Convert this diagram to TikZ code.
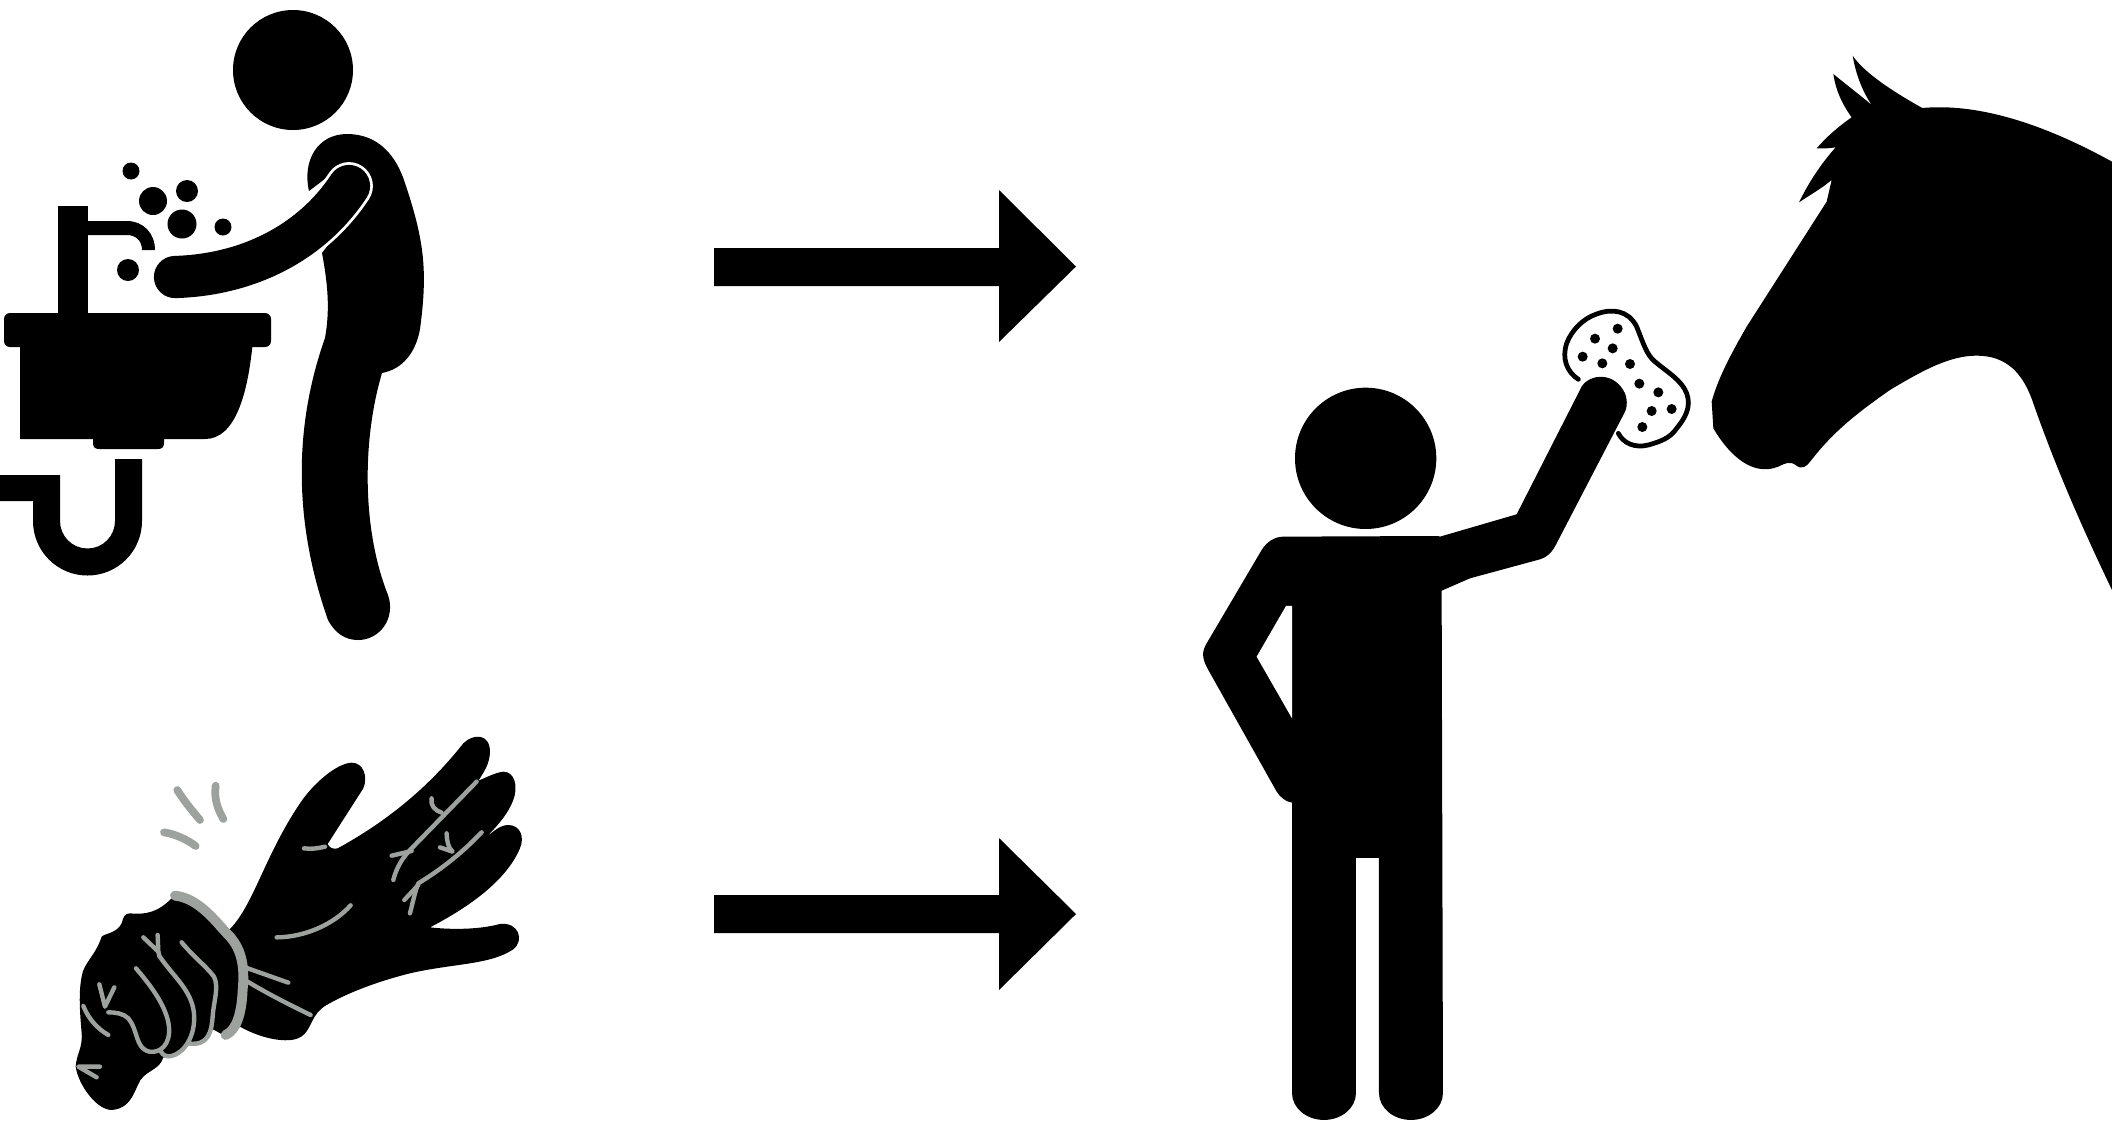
\documentclass[tikz,border=0pt]{standalone}
\usepackage{tikz}
\definecolor{handgrey}{RGB}{157,162,158}
\tikzset{
  greyline/.style={color=handgrey,line width=1.25pt,line cap=round,line join=round},
  greyspark/.style={color=handgrey,line width=2.2pt,line cap=round},
  greyband/.style={color=handgrey,line width=2.8pt,line cap=round,line join=round},
  sponge/.style={line width=1.35pt,line cap=round},
  bigarrow/.style={fill=black}
}
\begin{document}
\begin{tikzpicture}[x=0.01cm,y=-0.01cm]
\useasboundingbox (0,0) rectangle (2112,1120);
%\draw[help lines,step=100] (0,0) grid (2112,1120);

% washing person
\fill (293,70) circle (60);
\fill (309,191) .. controls (302,160) and (318,134) .. (347,134) .. controls (378,134) and (396,155) .. (405,183)
  .. controls (424,240) and (428,270) .. (420,329) .. controls (416,352) and (403,369) .. (382,373)
  .. controls (362,440) and (362,530) .. (388,595)
  .. controls (396,618) and (380,640) .. (358,640) .. controls (345,640) and (335,633) .. (328,620)
  .. controls (291,515) and (296,420) .. (325,338) .. controls (330,310) and (328,285) .. (322,253)
  -- (370,190) -- (348,165) -- (330,175) -- cycle;
\draw[white,line width=13.6pt,line cap=round] (175,277) .. controls (245,275) and (310,245) .. (349,186);
\draw[line width=12pt,line cap=round] (175,277) .. controls (245,275) and (310,245) .. (349,186);

% sink, tap and drain
\fill[rounded corners=1.7pt] (4,313) rectangle (271,347);
\fill (20,340) -- (20,439) -- (93,439) -- (93,443) .. controls (93,447) and (95,449) .. (99,449)
  -- (158,449) .. controls (162,449) and (164,447) .. (164,443) -- (164,439) -- (205,439)
  .. controls (235,439) and (248,395) .. (253,340) -- cycle;
\fill (58,206) rectangle (88,320);
\fill (88,221) -- (127,221) .. controls (143,221) and (155,233) .. (155,250) -- (142,250)
  .. controls (142,240) and (135,235) .. (127,235) -- (88,235) -- cycle;
\fill (0,475) -- (60,475) -- (60,521) arc (180:0:27.5) -- (115,459) -- (142,459) -- (142,521)
  arc (0:180:54.5) -- (33,501) -- (0,501) -- cycle;
\fill (131,171) circle (8.5);
\fill (153,201) circle (14);
\fill (187,191) circle (11);
\fill (182,224) circle (14.5);
\fill (223,227) circle (8.5);
\fill (128,270) circle (11);

% hurt hand
\begin{scope}[shift={(60,720)},scale=0.3333]
\fill (505,632) .. controls (580,560) and (612,410) .. (720,250) .. controls (760,190) and (830,130) .. (875,128)
  .. controls (910,128) and (925,170) .. (910,205) -- (803,372) .. controls (810,385) and (820,388) .. (833,385)
  .. controls (970,310) and (1100,210) .. (1210,70) .. controls (1240,40) and (1290,40) .. (1290,95)
  .. controls (1290,130) and (1270,160) .. (1255,182)
  .. controls (1280,172) and (1305,158) .. (1330,155) .. controls (1365,155) and (1375,200) .. (1360,240)
  .. controls (1345,280) and (1315,315) .. (1280,350)
  .. controls (1300,335) and (1320,315) .. (1345,315) .. controls (1380,315) and (1395,350) .. (1380,385)
  .. controls (1340,480) and (1230,560) .. (1110,622)
  .. controls (1180,630) and (1260,628) .. (1320,612) .. controls (1375,605) and (1395,660) .. (1360,688)
  .. controls (1290,735) and (1180,730) .. (1050,760) .. controls (950,785) and (860,820) .. (800,855)
  .. controls (755,880) and (755,925) .. (730,945) .. controls (700,975) and (610,960) .. (540,920)
  -- (490,945) -- (457,927) .. controls (450,960) and (425,982) .. (385,975) .. controls (370,1000) and (345,1015) .. (310,1012)
  .. controls (300,1045) and (270,1050) .. (250,1070) .. controls (225,1090) and (225,1165) .. (155,1170)
  .. controls (110,1170) and (55,1095) .. (47,1040) .. controls (50,1000) and (68,985) .. (65,940)
  .. controls (60,880) and (55,820) .. (65,770) .. controls (70,730) and (105,710) .. (125,650)
  .. controls (135,640) and (170,640) .. (185,610) .. controls (190,590) and (195,580) .. (210,580)
  .. controls (260,585) and (295,575) .. (335,535) -- (400,545) -- cycle;
% grey lines on the hand
\draw[greyspark] (352,210) .. controls (370,240) and (395,270) .. (420,300);
\draw[greyspark] (467,197) .. controls (462,235) and (472,265) .. (490,297);
\draw[greyspark] (312,337) .. controls (345,342) and (380,358) .. (407,378);
\draw[greyline] (732,385) .. controls (755,388) and (775,385) .. (795,380);
\draw[greyline] (650,652) .. controls (730,652) and (820,615) .. (872,556);
\draw[greyline] (555,742) -- (685,788);
\draw[greyline] (555,780) .. controls (620,820) and (690,855) .. (752,885);
\draw[greyband] (345,527) .. controls (420,535) and (470,610) .. (510,650) .. controls (545,690) and (555,740) .. (548,810)
  .. controls (545,880) and (530,930) .. (497,945);
\draw[greyline] (1250,185) -- (1055,385) .. controls (1030,410) and (1010,440) .. (1000,480);
\draw[greyline] (995,407) -- (1055,393);
\draw[greyline] (1115,235) .. controls (1110,255) and (1125,272) .. (1145,278);
\draw[greyline] (1265,337) .. controls (1200,405) and (1140,450) .. (1075,490) .. controls (1065,515) and (1058,550) .. (1050,580);
\draw[greyline] (1033,540) -- (1075,495);
\draw[greyline] (1160,340) .. controls (1160,360) and (1165,385) .. (1178,395) -- (1140,382);
\draw[greyline] (365,667) .. controls (400,710) and (440,740) .. (462,770) .. controls (478,800) and (460,850) .. (458,890)
  .. controls (455,930) and (448,980) .. (385,970);
\draw[greyline] (298,708) .. controls (340,770) and (395,810) .. (402,880) .. controls (408,950) and (370,1000) .. (335,1008)
  .. controls (320,1012) and (308,1005) .. (303,995);
\draw[greyline] (228,745) .. controls (275,800) and (320,860) .. (327,920) .. controls (332,975) and (300,1000) .. (268,995)
  .. controls (225,985) and (235,930) .. (205,895) .. controls (190,880) and (165,877) .. (145,877);
\draw[greyline] (250,652) -- (295,695) -- (293,645);
\draw[greyline] (295,695) -- (298,708);
\draw[greyline] (118,793) -- (135,860) -- (163,802);
\draw[greyline] (70,858) .. controls (85,895) and (110,925) .. (145,945);
\draw[greyline] (120,1040) -- (55,1040) -- (110,1072);
\end{scope}

% block arrows
\fill[bigarrow] (714,248) -- (999,248) -- (999,190) -- (1076,266.5) -- (999,342) -- (999,286) -- (714,286) -- cycle;
\fill[bigarrow] (714,895) -- (999,895) -- (999,838) -- (1076,914) -- (999,990) -- (999,933) -- (714,933) -- cycle;

% sponge
\begin{scope}[shift={(1550,290)},scale=0.3333]
\draw[sponge] (85,268) .. controls (50,245) and (35,205) .. (50,160) .. controls (65,120) and (100,85) .. (140,72)
  .. controls (185,55) and (235,60) .. (260,110) .. controls (280,160) and (290,195) .. (315,215)
  .. controls (350,245) and (395,270) .. (410,310) .. controls (425,350) and (405,385) .. (380,415)
  .. controls (360,445) and (330,455) .. (295,465) .. controls (255,475) and (220,460) .. (205,430);
\foreach \dotx/\doty in {203/116,135/146,188/175,98/200,157/220,240/222,268/281,325/307,305/363,365/357,277/411}
  \fill (\dotx,\doty) circle (15);
\end{scope}

% person with raised arm
\begin{scope}[shift={(1180,330)},scale=0.3333]
\fill (557,385) circle (212);
\fill (310,620) -- (775,618) -- (780,620) -- (1010,553) -- (1205,170)
  .. controls (1230,130) and (1305,125) .. (1335,190) .. controls (1345,215) and (1340,240) .. (1330,255)
  -- (1130,640) .. controls (1115,670) and (1100,682) .. (1080,688) -- (870,745) -- (785,782) -- (789,2289)
  .. controls (789,2334) and (746,2370) .. (693,2370) .. controls (640,2370) and (597,2334) .. (597,2289)
  -- (597,1584) -- (528,1584) -- (528,2289)
  .. controls (528,2334) and (485,2370) .. (432,2370) .. controls (379,2370) and (336,2334) .. (336,2289)
  -- (336,1418) .. controls (315,1415) and (300,1400) .. (290,1385) -- (85,1020)
  .. controls (65,985) and (65,965) .. (80,940) -- (245,660) .. controls (260,635) and (285,620) .. (310,620) -- cycle;
\fill[white] (318,828) -- (336,828) -- (336,1165) -- (230,980) -- cycle;
\end{scope}

% horse head
\begin{scope}[shift={(1690,40)},scale=0.3333]
\fill (488,47) .. controls (520,95) and (600,150) .. (697,204)
  .. controls (850,190) and (1040,240) .. (1266,365) -- (1266,1650)
  .. controls (1180,1470) and (1100,1290) .. (1030,1090) .. controls (1000,1000) and (950,947) .. (860,947)
  .. controls (780,947) and (700,990) .. (600,1050) .. controls (500,1120) and (430,1175) .. (362,1263)
  .. controls (350,1280) and (335,1290) .. (318,1276) .. controls (300,1262) and (285,1270) .. (265,1280)
  .. controls (190,1310) and (120,1250) .. (70,1165)
  -- (65,1085) .. controls (85,1010) and (130,930) .. (170,860) -- (410,485)
  -- (425,420) .. controls (395,445) and (360,465) .. (327,487) .. controls (355,430) and (390,375) .. (437,322)
  .. controls (418,325) and (400,326) .. (380,325) .. controls (410,290) and (445,260) .. (485,232)
  .. controls (455,190) and (437,150) .. (430,102) .. controls (470,135) and (510,165) .. (545,195)
  .. controls (515,150) and (497,100) .. (488,47) -- cycle;
\end{scope}
\end{tikzpicture}
\end{document}
